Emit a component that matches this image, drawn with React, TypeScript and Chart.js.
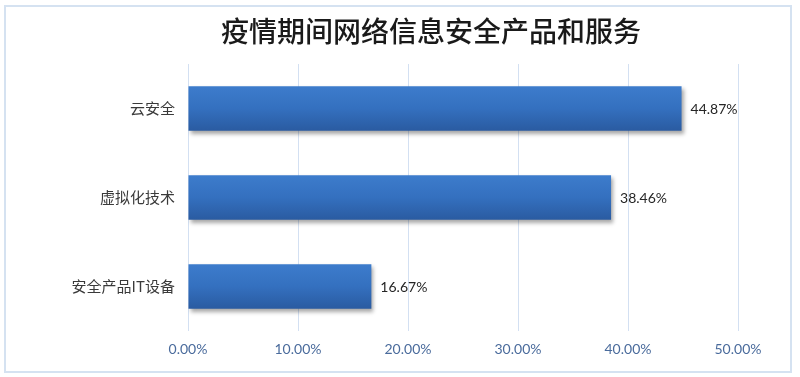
import React, { useEffect, useRef } from "react";
import { Chart, registerables } from "chart.js";
Chart.register(...registerables);

const titleText = "疫情期间网络信息安全产品和服务";
const categories = ["云安全", "虚拟化技术", "安全产品IT设备"];
const values = [44.87, 38.46, 16.67];
const tickMax = 50;
const tickStep = 10;

const decorPlugin = {
  id: "decor",
  beforeDraw(chart: any) {
    const { ctx } = chart;
    ctx.save();
    ctx.fillStyle = "#ffffff";
    ctx.fillRect(0, 0, chart.width, chart.height);
    ctx.strokeStyle = "#d5e2f1";
    ctx.lineWidth = 2;
    ctx.strokeRect(5, 6, 786, 366);
    ctx.fillStyle = "#1a1a1a";
    ctx.font = "500 28px 'Noto Sans CJK SC'";
    ctx.textAlign = "center";
    ctx.textBaseline = "middle";
    ctx.fillText(titleText, 431, 31);
    ctx.restore();
  },
  beforeDatasetsDraw(chart: any) {
    const { ctx } = chart;
    ctx.save();
    ctx.shadowColor = "rgba(0,0,0,0.35)";
    ctx.shadowBlur = 4;
    ctx.shadowOffsetX = 2;
    ctx.shadowOffsetY = 3;
  },
  afterDatasetsDraw(chart: any) {
    const { ctx } = chart;
    ctx.restore();
    const meta = chart.getDatasetMeta(0);
    ctx.save();
    ctx.fillStyle = "#262626";
    ctx.font = "14px Lato";
    ctx.textAlign = "left";
    ctx.textBaseline = "middle";
    meta.data.forEach((bar: any, i: number) => {
      ctx.fillText(values[i].toFixed(2) + "%", bar.x + 9, bar.y + 1);
    });
    ctx.restore();
  },
};

export default function App() {
  const ref = useRef<HTMLCanvasElement>(null);
  useEffect(() => {
    const chart = new Chart(ref.current!, {
      type: "bar",
      data: {
        labels: categories,
        datasets: [
          {
            data: values,
            barPercentage: 0.5,
            categoryPercentage: 1,
            borderWidth: 0,
            backgroundColor: (c: any) => {
              const ch = c.chart;
              const y = ch.scales?.y;
              if (!y || c.dataIndex === undefined) return "#3069b8";
              const py = y.getPixelForValue(c.dataIndex);
              const half = (y.height / categories.length) * 0.25;
              if (!isFinite(py) || !isFinite(half) || half <= 0) return "#3069b8";
              const g = ch.ctx.createLinearGradient(0, py - half, 0, py + half);
              g.addColorStop(0, "#3d7ccc");
              g.addColorStop(0.5, "#3470bf");
              g.addColorStop(1, "#2a5ba1");
              return g;
            },
          },
        ],
      },
      options: {
        indexAxis: "y",
        animation: false,
        responsive: false,
        maintainAspectRatio: false,
        layout: { padding: { left: 0, right: 62, top: 64, bottom: 0 } },
        plugins: { legend: { display: false }, title: { display: false }, tooltip: { enabled: false } },
        scales: {
          x: {
            min: 0,
            max: tickMax,
            ticks: {
              stepSize: tickStep,
              color: "#4a6b9c",
              font: { family: "Lato", size: 14 },
              padding: 10,
              callback: (v: any) => Number(v).toFixed(2) + "%",
            },
            grid: { color: "#d3e0f2", lineWidth: 1, drawTicks: false },
            border: { display: false },
            afterFit: (s: any) => { s.height = 46; },
          },
          y: {
            ticks: {
              color: "#3a3a3a",
              font: { family: "'Noto Sans CJK SC'", size: 15 },
              padding: 5,
            },
            grid: { display: false },
            border: { display: false },
            afterFit: (s: any) => { s.width = 188; },
          },
        },
      },
      plugins: [decorPlugin],
    } as any);
    return () => chart.destroy();
  }, []);
  return (
    <div style={{ position: "fixed", left: 0, top: 0, width: 800, height: 377 }}>
      <canvas ref={ref} width={800} height={377} />
    </div>
  );
}
